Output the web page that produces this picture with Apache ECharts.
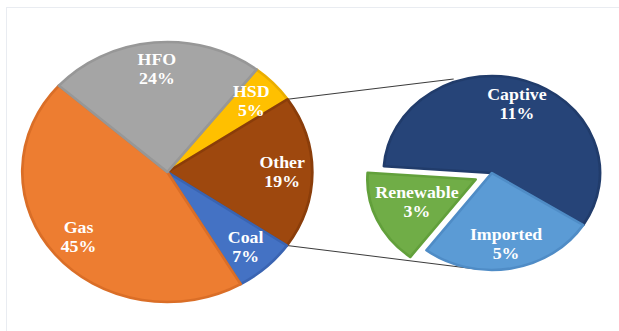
<!DOCTYPE html>
<html><head><meta charset="utf-8">
<script src="https://cdn.jsdelivr.net/npm/echarts@6/dist/echarts.min.js"></script>
<style>
html,body{margin:0;padding:0;background:#fff;overflow:hidden;width:619px;height:331px}
#frame{position:absolute;left:6px;top:7px;width:620px;height:330px;border-top:1px solid #e9ecf1;border-left:1px solid #e9ecf1}
#chart{position:absolute;left:0;top:0;width:555px;height:331px;transform:scaleX(1.1153);transform-origin:0 0}
</style></head><body>
<div id="frame"></div><div id="chart"></div>
<script>
// Main pie
const mainCategories = ['HSD', 'Other', 'Coal', 'Gas', 'HFO'];
const mainValues = [5, 19, 7, 45, 24];
const mainColors = ['#FFC000', '#9E480E', '#4472C4', '#ED7D31', '#A5A5A5'];
const mainBorders = ['#EAAE00', '#8A3D0A', '#3A64B2', '#DA6E27', '#979797'];
// Breakdown of "Other"
const subCategories = ['Captive', 'Imported', 'Renewable'];
const subValues = [11, 5, 3];
const subColors = ['#264478', '#5B9BD5', '#70AD47'];
const subBorders = ['#213C6B', '#4F8CC6', '#62A03B'];

const mainCenter = [150, 172], mainR = 130, mainStart = 52;
const subCenter = [441, 173], subR = 97, subStart = 176;

const total = mainValues.reduce((a, b) => a + b, 0);
const otherIdx = mainCategories.indexOf('Other');
let before = 0;
for (let i = 0; i < otherIdx; i++) before += mainValues[i];
const aTop = (mainStart - 360 * before / total) * Math.PI / 180;
const aBot = (mainStart - 360 * (before + mainValues[otherIdx]) / total) * Math.PI / 180;
const pt = (c, r, a) => [c[0] + r * Math.cos(a), c[1] - r * Math.sin(a)];
const p1 = pt(mainCenter, mainR, aTop), p2 = pt(mainCenter, mainR, aBot);
const q1 = pt(subCenter, subR + 3, 110 * Math.PI / 180), q2 = pt(subCenter, subR, -98.6 * Math.PI / 180);

const labelStyle = {
  show: true, position: 'inside', formatter: '{b}\n{c}%', color: '#fff',
  fontFamily: '"Liberation Serif", "Times New Roman", serif', fontWeight: 'bold', fontSize: 16, lineHeight: 19,
  textBorderWidth: 0, textShadowBlur: 0
};
const mk = (cats, vals, cols, bords, sel) => cats.map((n, i) => ({
  name: n, value: vals[i], selected: sel && n === sel,
  itemStyle: { color: cols[i], borderColor: bords[i], borderWidth: 2.5 }
}));
const mkT = (cats, vals, sel) => cats.map((n, i) => ({
  name: n, value: vals[i], selected: sel && n === sel,
  itemStyle: { color: 'rgba(0,0,0,0)', borderWidth: 0 }
}));

const chart = echarts.init(document.getElementById('chart'), null, { renderer: 'svg' });
chart.setOption({
  animation: false,
  backgroundColor: 'transparent',
  graphic: [
    { type: 'line', z: 1, shape: { x1: p1[0], y1: p1[1], x2: q1[0], y2: q1[1] }, style: { stroke: '#3c3c3c', lineWidth: 1 } },
    { type: 'line', z: 1, shape: { x1: p2[0], y1: p2[1], x2: q2[0], y2: q2[1] }, style: { stroke: '#3c3c3c', lineWidth: 1 } }
  ],
  series: [
    { type: 'pie', center: mainCenter, radius: [0, mainR], startAngle: mainStart, clockwise: true,
      label: { show: false }, labelLine: { show: false }, emphasis: { disabled: true }, silent: true,
      data: mk(mainCategories, mainValues, mainColors, mainBorders) },
    { type: 'pie', center: mainCenter, radius: [70, mainR], startAngle: mainStart, clockwise: true,
      label: labelStyle, labelLine: { show: false }, emphasis: { disabled: true }, silent: true, z: 5,
      data: mkT(mainCategories, mainValues) },
    { type: 'pie', center: subCenter, radius: [0, subR], startAngle: subStart, clockwise: true,
      selectedMode: 'single', selectedOffset: 16,
      label: { show: false }, labelLine: { show: false }, emphasis: { disabled: true }, silent: true,
      data: mk(subCategories, subValues, subColors, subBorders, 'Renewable') },
    { type: 'pie', center: subCenter, radius: [41, subR], startAngle: subStart, clockwise: true,
      selectedMode: 'single', selectedOffset: 16,
      label: labelStyle, labelLine: { show: false }, emphasis: { disabled: true }, silent: true, z: 5,
      labelLayout: function (p) { return p.dataIndex === 2 ? { dx: 13, dy: -7 } : {}; },
      data: mkT(subCategories, subValues, 'Renewable') }
  ]
});
</script>
</body></html>
